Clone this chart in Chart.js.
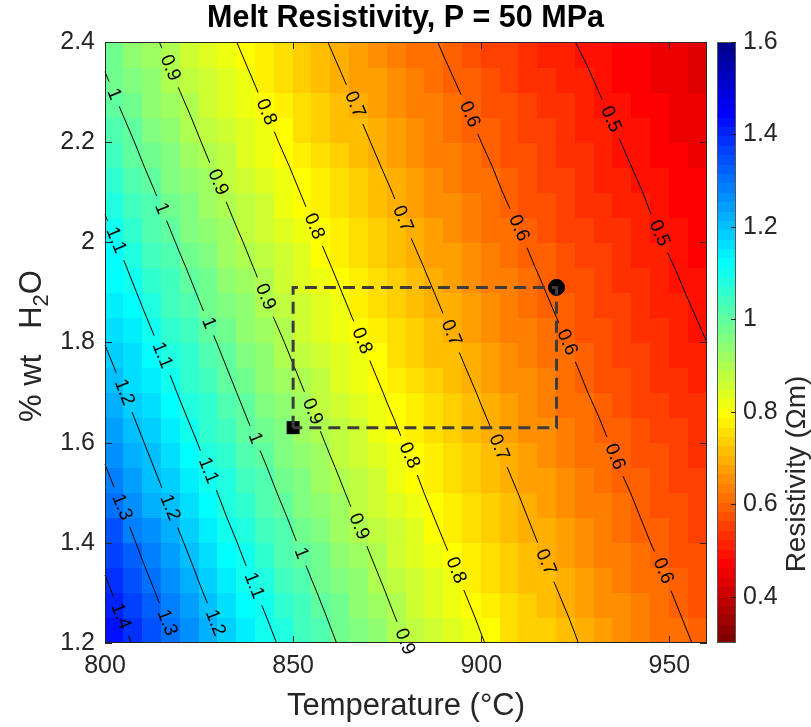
<!DOCTYPE html>
<html>
<head>
<meta charset="utf-8">
<title>Melt Resistivity</title>
<script src="https://cdn.jsdelivr.net/npm/chart.js@4.4.0/dist/chart.umd.min.js"></script>
<style>
  html, body { margin: 0; padding: 0; background: #fff; }
</style>
</head>
<body>
<canvas id="chart" width="811" height="727"></canvas>
<script>
// grid nodes: temperature (°C) and water content (% wt)
const temps = [800, 805, 810, 815, 820, 825, 830, 835, 840, 845, 850, 855, 860, 865, 870, 875, 880,
               885, 890, 895, 900, 905, 910, 915, 920, 925, 930, 935, 940, 945, 950, 955, 960];
const water = [1.2, 1.25, 1.3, 1.35, 1.4, 1.45, 1.5, 1.55, 1.6, 1.65, 1.7, 1.75, 1.8, 1.85, 1.9,
               1.95, 2.0, 2.05, 2.1, 2.15, 2.2, 2.25, 2.3, 2.35, 2.4];

// resistivity (Ohm m), one row per temperature, values from low to high water
const resistivity = [
  [1.465,1.440,1.417,1.393,1.370,1.347,1.325,1.303,1.281,1.260,1.239,1.218,1.198,1.178,1.159,1.139,1.121,1.102,1.084,1.066,1.048,1.031,1.013,0.997,0.980],
  [1.418,1.394,1.371,1.349,1.327,1.305,1.283,1.262,1.241,1.221,1.201,1.181,1.161,1.142,1.123,1.105,1.087,1.069,1.051,1.034,1.017,1.000,0.983,0.967,0.951],
  [1.373,1.350,1.328,1.306,1.285,1.264,1.243,1.223,1.203,1.183,1.164,1.145,1.126,1.107,1.089,1.072,1.054,1.037,1.020,1.003,0.987,0.970,0.955,0.939,0.923],
  [1.329,1.308,1.287,1.266,1.245,1.225,1.205,1.185,1.166,1.147,1.128,1.110,1.092,1.074,1.057,1.039,1.023,1.006,0.990,0.973,0.958,0.942,0.927,0.912,0.897],
  [1.288,1.267,1.247,1.227,1.207,1.187,1.168,1.149,1.131,1.112,1.094,1.077,1.059,1.042,1.025,1.009,0.992,0.976,0.961,0.945,0.930,0.915,0.900,0.885,0.871],
  [1.248,1.228,1.208,1.189,1.170,1.151,1.133,1.114,1.097,1.079,1.062,1.045,1.028,1.011,0.995,0.979,0.963,0.948,0.933,0.918,0.903,0.889,0.874,0.860,0.846],
  [1.210,1.191,1.172,1.153,1.135,1.116,1.099,1.081,1.064,1.047,1.030,1.014,0.998,0.982,0.966,0.951,0.935,0.921,0.906,0.891,0.877,0.863,0.849,0.836,0.823],
  [1.173,1.155,1.136,1.118,1.101,1.083,1.066,1.049,1.032,1.016,1.000,0.984,0.969,0.953,0.938,0.923,0.909,0.894,0.880,0.866,0.852,0.839,0.826,0.813,0.800],
  [1.138,1.120,1.102,1.085,1.068,1.051,1.034,1.018,1.002,0.986,0.971,0.956,0.941,0.926,0.911,0.897,0.883,0.869,0.855,0.842,0.828,0.815,0.803,0.790,0.778],
  [1.104,1.087,1.070,1.053,1.036,1.020,1.004,0.989,0.973,0.958,0.943,0.928,0.914,0.899,0.885,0.871,0.858,0.844,0.831,0.818,0.805,0.793,0.780,0.768,0.756],
  [1.071,1.055,1.038,1.022,1.006,0.991,0.975,0.960,0.945,0.930,0.916,0.902,0.888,0.874,0.860,0.847,0.834,0.821,0.808,0.796,0.783,0.771,0.759,0.747,0.736],
  [1.040,1.024,1.008,0.992,0.977,0.962,0.947,0.933,0.918,0.904,0.890,0.876,0.863,0.849,0.836,0.823,0.811,0.798,0.786,0.774,0.762,0.750,0.739,0.727,0.716],
  [1.009,0.994,0.979,0.964,0.949,0.934,0.920,0.906,0.892,0.878,0.865,0.852,0.839,0.826,0.813,0.801,0.788,0.776,0.764,0.753,0.741,0.730,0.719,0.708,0.697],
  [0.980,0.965,0.951,0.936,0.922,0.908,0.894,0.881,0.867,0.854,0.841,0.828,0.816,0.803,0.791,0.779,0.767,0.755,0.744,0.732,0.721,0.710,0.700,0.689,0.678],
  [0.952,0.938,0.924,0.910,0.896,0.882,0.869,0.856,0.843,0.830,0.818,0.805,0.793,0.781,0.769,0.758,0.746,0.735,0.724,0.713,0.702,0.692,0.681,0.671,0.661],
  [0.925,0.911,0.898,0.884,0.871,0.858,0.845,0.832,0.820,0.807,0.795,0.783,0.772,0.760,0.749,0.737,0.726,0.715,0.705,0.694,0.684,0.673,0.663,0.653,0.643],
  [0.899,0.886,0.873,0.860,0.847,0.834,0.822,0.810,0.797,0.786,0.774,0.762,0.751,0.740,0.729,0.718,0.707,0.696,0.686,0.676,0.666,0.656,0.646,0.636,0.627],
  [0.874,0.861,0.849,0.836,0.824,0.811,0.799,0.788,0.776,0.764,0.753,0.742,0.731,0.720,0.709,0.699,0.688,0.678,0.668,0.658,0.648,0.639,0.629,0.620,0.611],
  [0.850,0.838,0.825,0.813,0.801,0.789,0.778,0.766,0.755,0.744,0.733,0.722,0.711,0.701,0.691,0.680,0.670,0.661,0.651,0.641,0.632,0.622,0.613,0.604,0.595],
  [0.827,0.815,0.803,0.791,0.780,0.768,0.757,0.746,0.735,0.724,0.714,0.703,0.693,0.683,0.673,0.663,0.653,0.644,0.634,0.625,0.616,0.607,0.598,0.589,0.580],
  [0.804,0.793,0.781,0.770,0.759,0.748,0.737,0.726,0.715,0.705,0.695,0.685,0.675,0.665,0.655,0.646,0.636,0.627,0.618,0.609,0.600,0.591,0.583,0.574,0.566],
  [0.783,0.771,0.760,0.749,0.739,0.728,0.717,0.707,0.697,0.687,0.677,0.667,0.657,0.648,0.638,0.629,0.620,0.611,0.602,0.594,0.585,0.577,0.568,0.560,0.552],
  [0.762,0.751,0.740,0.730,0.719,0.709,0.699,0.689,0.679,0.669,0.659,0.650,0.641,0.631,0.622,0.613,0.605,0.596,0.587,0.579,0.571,0.562,0.554,0.546,0.538],
  [0.742,0.731,0.721,0.710,0.700,0.690,0.680,0.671,0.661,0.652,0.642,0.633,0.624,0.615,0.607,0.598,0.589,0.581,0.573,0.565,0.556,0.549,0.541,0.533,0.525],
  [0.722,0.712,0.702,0.692,0.682,0.672,0.663,0.654,0.644,0.635,0.626,0.617,0.609,0.600,0.591,0.583,0.575,0.567,0.559,0.551,0.543,0.535,0.528,0.520,0.513],
  [0.703,0.694,0.684,0.674,0.665,0.655,0.646,0.637,0.628,0.619,0.610,0.602,0.593,0.585,0.577,0.569,0.561,0.553,0.545,0.537,0.530,0.522,0.515,0.508,0.500],
  [0.685,0.676,0.666,0.657,0.648,0.639,0.630,0.621,0.612,0.604,0.595,0.587,0.579,0.571,0.563,0.555,0.547,0.539,0.532,0.524,0.517,0.510,0.503,0.496,0.489],
  [0.668,0.658,0.649,0.640,0.631,0.623,0.614,0.605,0.597,0.589,0.580,0.572,0.564,0.557,0.549,0.541,0.534,0.526,0.519,0.512,0.505,0.498,0.491,0.484,0.477],
  [0.651,0.642,0.633,0.624,0.616,0.607,0.599,0.590,0.582,0.574,0.566,0.558,0.551,0.543,0.536,0.528,0.521,0.514,0.507,0.500,0.493,0.486,0.479,0.473,0.466],
  [0.634,0.626,0.617,0.609,0.600,0.592,0.584,0.576,0.568,0.560,0.552,0.545,0.537,0.530,0.523,0.516,0.508,0.501,0.495,0.488,0.481,0.475,0.468,0.462,0.455],
  [0.618,0.610,0.602,0.594,0.585,0.577,0.570,0.562,0.554,0.547,0.539,0.532,0.525,0.517,0.510,0.503,0.496,0.490,0.483,0.476,0.470,0.464,0.457,0.451,0.445],
  [0.603,0.595,0.587,0.579,0.571,0.563,0.556,0.548,0.541,0.533,0.526,0.519,0.512,0.505,0.498,0.492,0.485,0.478,0.472,0.465,0.459,0.453,0.447,0.441,0.435],
  [0.588,0.580,0.573,0.565,0.557,0.550,0.542,0.535,0.528,0.521,0.514,0.507,0.500,0.493,0.487,0.480,0.474,0.467,0.461,0.455,0.449,0.443,0.437,0.431,0.425]
];

const contourLevels = [0.5, 0.6, 0.7, 0.8, 0.9, 1, 1.1, 1.2, 1.3, 1.4];
const colorLimits = [0.3, 1.6];
const xTicks = [800, 850, 900, 950];
const yTicks = [1.2, 1.4, 1.6, 1.8, 2, 2.2, 2.4];
const cbTicks = [0.4, 0.6, 0.8, 1, 1.2, 1.4, 1.6];

// dashed box between the two marked states
const pathT = [850, 850, 920, 920, 850];
const pathW = [1.63, 1.91, 1.91, 1.63, 1.63];
const startPoint = { x: 850, y: 1.63 };
const endPoint = { x: 920, y: 1.91 };

const FONT = "'Liberation Sans', Arial, Helvetica, sans-serif";
const AXIS_COLOR = '#262626';

// where the first label sits on each contour (pixels from its upper end), then every labelSpacing px
const labelStart = { 0.5: 85, 0.6: 79, 0.7: 68, 0.8: 76, 0.9: 28, 1: 24, 1.1: 28, 1.2: 51, 1.3: 46, 1.4: 44 };
const labelSpacing = 124;

// MATLAB jet(m), flipped so high values are blue
function jet(m) {
  const n = Math.ceil(m / 4);
  const u = [];
  for (let k = 1; k <= n; k++) u.push(k / n);
  for (let k = 1; k < n; k++) u.push(1);
  for (let k = n; k >= 1; k--) u.push(k / n);
  const g0 = Math.ceil(n / 2) - (m % 4 === 1 ? 1 : 0);
  const map = [];
  for (let i = 0; i < m; i++) map.push([0, 0, 0]);
  u.forEach((val, k) => {
    const g = g0 + k, r = g + n, b = g - n;
    if (g >= 0 && g < m) map[g][1] = val;
    if (r >= 0 && r < m) map[r][0] = val;
    if (b >= 0 && b < m) map[b][2] = val;
  });
  return map;
}
const cmap = jet(64).reverse().map(c => `rgb(${Math.round(c[0] * 255)},${Math.round(c[1] * 255)},${Math.round(c[2] * 255)})`);

function colorFor(v) {
  const [lo, hi] = colorLimits;
  let idx = Math.floor((v - lo) / (hi - lo) * cmap.length);
  idx = Math.max(0, Math.min(cmap.length - 1, idx));
  return cmap[idx];
}

// edge crossings of one level, ordered from the top of the plot down
function contourPoints(level, xs, ys) {
  const pts = [];
  for (let i = 0; i < temps.length; i++) {
    for (let j = 0; j < water.length; j++) {
      const v = resistivity[i][j];
      if (i + 1 < temps.length) {
        const v2 = resistivity[i + 1][j];
        if (v !== v2 && (v - level) * (v2 - level) <= 0) {
          const f = (level - v) / (v2 - v);
          pts.push({ t: temps[i] + f * (temps[i + 1] - temps[i]), w: water[j] });
        }
      }
      if (j + 1 < water.length) {
        const v2 = resistivity[i][j + 1];
        if (v !== v2 && (v - level) * (v2 - level) <= 0) {
          const f = (level - v) / (v2 - v);
          pts.push({ t: temps[i], w: water[j] + f * (water[j + 1] - water[j]) });
        }
      }
    }
  }
  pts.sort((a, b) => b.w - a.w || a.t - b.t);
  const out = [];
  pts.forEach(p => {
    const q = { x: xs.getPixelForValue(p.t), y: ys.getPixelForValue(p.w) };
    const last = out[out.length - 1];
    if (!last || Math.hypot(q.x - last.x, q.y - last.y) > 0.3) out.push(q);
  });
  return out;
}

function pointAt(pts, cum, s) {
  const L = cum[cum.length - 1];
  if (s <= 0) return { x: pts[0].x, y: pts[0].y };
  let k = 1;
  while (k < cum.length - 1 && cum[k] < s) k++;
  const seg = cum[k] - cum[k - 1] || 1;
  const f = (s - cum[k - 1]) / seg;
  if (s > L) k = cum.length - 1;
  return { x: pts[k - 1].x + f * (pts[k].x - pts[k - 1].x), y: pts[k - 1].y + f * (pts[k].y - pts[k - 1].y) };
}

function drawContour(ctx, pts, level) {
  if (pts.length < 2) return;
  const text = String(level);
  const cum = [0];
  for (let k = 1; k < pts.length; k++) cum.push(cum[k - 1] + Math.hypot(pts[k].x - pts[k - 1].x, pts[k].y - pts[k - 1].y));
  const L = cum[cum.length - 1];
  ctx.font = `19px ${FONT}`;
  const gap = ctx.measureText(text).width + 16;
  const spots = [];
  for (let s = labelStart[level]; s <= L + 4; s += labelSpacing) spots.push(s);

  // visible pieces of the line
  let pieces = [[0, L]];
  spots.forEach(s => {
    const a = s - gap / 2, b = s + gap / 2;
    pieces = pieces.flatMap(([p, q]) => {
      const res = [];
      if (a > p) res.push([p, Math.min(q, a)]);
      if (b < q) res.push([Math.max(p, b), q]);
      return res.filter(([m, n]) => n > m);
    });
  });
  ctx.strokeStyle = '#000';
  ctx.lineWidth = 1;
  pieces.forEach(([a, b]) => {
    ctx.beginPath();
    const p0 = pointAt(pts, cum, a);
    ctx.moveTo(p0.x, p0.y);
    for (let k = 0; k < pts.length; k++) if (cum[k] > a && cum[k] < b) ctx.lineTo(pts[k].x, pts[k].y);
    const p1 = pointAt(pts, cum, b);
    ctx.lineTo(p1.x, p1.y);
    ctx.stroke();
  });

  ctx.fillStyle = '#000';
  ctx.textAlign = 'center';
  ctx.textBaseline = 'middle';
  spots.forEach(s => {
    const p = pointAt(pts, cum, s);
    const pa = pointAt(pts, cum, Math.max(0, s - 10));
    const pb = pointAt(pts, cum, Math.min(L, s + 10));
    let ang = Math.atan2(pb.y - pa.y, pb.x - pa.x);
    if (ang > Math.PI / 2) ang -= Math.PI;
    if (ang < -Math.PI / 2) ang += Math.PI;
    ctx.save();
    ctx.translate(p.x, p.y);
    ctx.rotate(ang);
    ctx.fillText(text, 0, 0);
    ctx.restore();
  });
}

const mapPlugin = {
  id: 'resistivityMap',
  beforeDatasetsDraw(chart) {
    const { ctx, scales: { x, y } } = chart;
    ctx.save();
    for (let i = 0; i < temps.length - 1; i++) {
      for (let j = 0; j < water.length - 1; j++) {
        const v = (resistivity[i][j] + resistivity[i + 1][j] + resistivity[i][j + 1] + resistivity[i + 1][j + 1]) / 4;
        const x0 = Math.floor(x.getPixelForValue(temps[i]));
        const x1 = Math.ceil(x.getPixelForValue(temps[i + 1]));
        const y0 = Math.floor(y.getPixelForValue(water[j + 1]));
        const y1 = Math.ceil(y.getPixelForValue(water[j]));
        ctx.fillStyle = colorFor(v);
        ctx.fillRect(x0, y0, x1 - x0, y1 - y0);
      }
    }
    contourLevels.forEach(level => drawContour(ctx, contourPoints(level, x, y), level));
    ctx.restore();
  },
  afterDraw(chart) {
    const { ctx, chartArea: a, scales: { x, y, cb } } = chart;
    ctx.save();
    // axes box with inward ticks
    ctx.strokeStyle = AXIS_COLOR;
    ctx.lineWidth = 1;
    ctx.strokeRect(a.left + 0.5, a.top + 0.5, a.right - a.left - 1, a.bottom - a.top - 1);
    const tl = 7;
    ctx.beginPath();
    xTicks.forEach(v => {
      const px = Math.round(x.getPixelForValue(v)) + 0.5;
      ctx.moveTo(px, a.bottom); ctx.lineTo(px, a.bottom - tl);
      ctx.moveTo(px, a.top); ctx.lineTo(px, a.top + tl);
    });
    yTicks.forEach(v => {
      const py = Math.round(y.getPixelForValue(v)) + 0.5;
      ctx.moveTo(a.left, py); ctx.lineTo(a.left + tl, py);
      ctx.moveTo(a.right, py); ctx.lineTo(a.right - tl, py);
    });
    ctx.stroke();

    // colorbar
    const bx = cb.left + 10, bw = 19;
    const [lo, hi] = colorLimits;
    const step = (hi - lo) / cmap.length;
    for (let k = 0; k < cmap.length; k++) {
      const yTop = Math.floor(cb.getPixelForValue(lo + (k + 1) * step));
      const yBot = Math.ceil(cb.getPixelForValue(lo + k * step));
      ctx.fillStyle = cmap[k];
      ctx.fillRect(bx, yTop, bw, yBot - yTop);
    }
    ctx.strokeStyle = '#555';
    ctx.strokeRect(bx + 0.5, a.top + 0.5, bw - 1, a.bottom - a.top - 1);
    ctx.beginPath();
    cbTicks.forEach(v => {
      const py = Math.round(cb.getPixelForValue(v)) + 0.5;
      ctx.moveTo(bx + bw, py); ctx.lineTo(bx + bw - 5, py);
    });
    ctx.strokeStyle = AXIS_COLOR;
    ctx.stroke();

    // colorbar label
    ctx.fillStyle = AXIS_COLOR;
    ctx.textAlign = 'center';
    ctx.textBaseline = 'middle';
    ctx.save();
    ctx.translate(797, 474);
    ctx.rotate(-Math.PI / 2);
    ctx.font = `28px ${FONT}`;
    ctx.fillText('Resistivity (\u03A9m)', 0, 0);
    ctx.restore();

    // y label with subscript
    ctx.save();
    ctx.translate(32, 346);
    ctx.rotate(-Math.PI / 2);
    const big = `31px ${FONT}`, small = `22px ${FONT}`;
    ctx.font = big;
    const w1 = ctx.measureText('% wt   H').width, w3 = ctx.measureText('O').width;
    ctx.font = small;
    const w2 = ctx.measureText('2').width;
    const s0 = -(w1 + w2 + w3) / 2;
    ctx.textAlign = 'left';
    ctx.font = big;
    ctx.fillText('% wt   H', s0, 0);
    ctx.font = small;
    ctx.fillText('2', s0 + w1, 10);
    ctx.font = big;
    ctx.fillText('O', s0 + w1 + w2, 0);
    ctx.restore();
    ctx.restore();
  }
};

const fmt = v => String(+Number(v).toFixed(2));
const noPad = s => { s.paddingTop = 0; s.paddingBottom = 0; s.paddingLeft = 0; s.paddingRight = 0; };

new Chart(document.getElementById('chart'), {
  type: 'scatter',
  data: {
    datasets: [
      {
        label: 'path',
        data: pathT.map((t, k) => ({ x: t, y: pathW[k] })),
        showLine: true,
        borderColor: '#3c3c3c',
        borderWidth: 3,
        borderDash: [12, 7],
        pointRadius: 0,
        fill: false
      },
      {
        label: 'start',
        data: [startPoint],
        pointStyle: 'rect',
        pointRadius: 9.2,
        backgroundColor: '#000',
        borderColor: '#000',
        borderWidth: 0
      },
      {
        label: 'end',
        data: [endPoint],
        pointStyle: 'circle',
        pointRadius: 8,
        backgroundColor: '#000',
        borderColor: '#000',
        borderWidth: 1
      }
    ]
  },
  options: {
    responsive: false,
    animation: false,
    layout: { padding: 0 },
    plugins: {
      legend: { display: false },
      tooltip: { enabled: false },
      title: {
        display: true,
        text: 'Melt Resistivity, P = 50 MPa',
        color: '#000',
        font: { family: FONT, size: 30.5, weight: 'bold' },
        padding: { top: 0, bottom: 5.4 }
      }
    },
    scales: {
      x: {
        type: 'linear',
        min: 800,
        max: 960,
        grid: { display: false, drawTicks: false },
        border: { display: false },
        afterBuildTicks: s => { s.ticks = xTicks.map(v => ({ value: v })); },
        afterFit: s => { s.height = 84; noPad(s); },
        ticks: { color: AXIS_COLOR, font: { family: FONT, size: 25 }, padding: 8, callback: fmt },
        title: {
          display: true,
          text: 'Temperature (\u00B0C)',
          color: AXIS_COLOR,
          font: { family: FONT, size: 31 },
          padding: { top: 0, bottom: 2 }
        }
      },
      y: {
        type: 'linear',
        min: 1.2,
        max: 2.4,
        grid: { display: false, drawTicks: false },
        border: { display: false },
        afterBuildTicks: s => { s.ticks = yTicks.map(v => ({ value: v })); },
        afterFit: s => { s.width = 105; noPad(s); },
        ticks: { color: AXIS_COLOR, font: { family: FONT, size: 25 }, padding: 10, callback: fmt }
      },
      cb: {
        type: 'linear',
        axis: 'y',
        position: 'right',
        min: colorLimits[0],
        max: colorLimits[1],
        grid: { display: false, drawTicks: false },
        border: { display: false },
        afterBuildTicks: s => { s.ticks = cbTicks.map(v => ({ value: v })); },
        afterFit: s => { s.width = 104; noPad(s); },
        ticks: { color: AXIS_COLOR, font: { family: FONT, size: 25 }, padding: 36, callback: fmt }
      }
    }
  },
  plugins: [mapPlugin]
});
</script>
</body>
</html>
